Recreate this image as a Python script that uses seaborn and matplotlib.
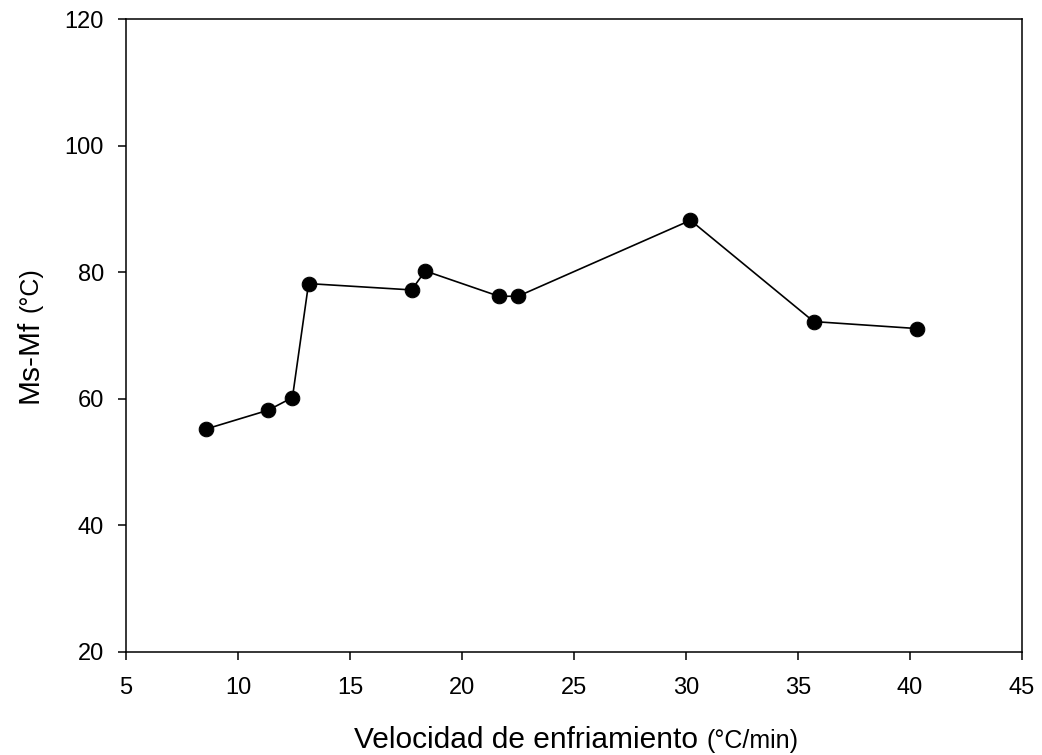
import matplotlib
matplotlib.use("Agg")
import matplotlib.pyplot as plt
import seaborn as sns
import pandas as pd
from matplotlib.offsetbox import TextArea, HPacker, AnchoredOffsetbox

# Data
velocidad = [8.55, 11.35, 12.43, 13.15, 17.75, 18.36, 21.65, 22.5, 30.2, 35.7, 40.3]
ms_mf = [55.2, 58.2, 60.2, 78.2, 77.2, 80.2, 76.2, 76.2, 88.2, 72.2, 71.1]
x_ticks = [5, 10, 15, 20, 25, 30, 35, 40, 45]
y_ticks = [20, 40, 60, 80, 100, 120]

sns.set_style("white")
plt.rcParams['font.family'] = ['Liberation Sans', 'DejaVu Sans']

df = pd.DataFrame({"v": velocidad, "d": ms_mf})

fig = plt.figure(figsize=(10.42, 7.55), dpi=100)
ax = fig.add_axes([126/1042, 1 - 652/755, (1022-126)/1042, (652-19)/755])

sns.lineplot(data=df, x="v", y="d", sort=False, ax=ax, color="black",
             linewidth=1.2, marker="o", markersize=10.5,
             markerfacecolor="black", markeredgecolor="black")

ax.set_xlim(5, 45)
ax.set_ylim(20, 120)
ax.set_xticks(x_ticks)
ax.set_yticks(y_ticks)
ax.set_xlabel("")
ax.set_ylabel("")
for s in ax.spines.values():
    s.set_color("black")
    s.set_linewidth(1.1)
ax.tick_params(axis="both", which="both", direction="out", length=5.8, width=1.1,
               labelsize=17, colors="black", bottom=True, left=True,
               top=False, right=False)
ax.tick_params(axis="x", pad=12)
ax.tick_params(axis="y", pad=10)

# x label with mixed sizes
t1 = TextArea("Velocidad de enfriamiento", textprops=dict(fontsize=21.5, color="black"))
t2 = TextArea("(°C/min)", textprops=dict(fontsize=18, color="black"))
hp = HPacker(children=[t1, t2], align="baseline", pad=0, sep=6)
ab = AnchoredOffsetbox(loc="center", child=hp, frameon=False,
                       bbox_to_anchor=(576/1042, 1 - 740/755),
                       bbox_transform=fig.transFigure, pad=0, borderpad=0)
fig.add_artist(ab)

# y label with mixed sizes (rotated)
fig.text(37/1042, 1 - 361/755, "Ms-Mf", rotation=90, fontsize=21.5,
         ha="center", va="baseline", rotation_mode="anchor", color="black")
fig.text(37/1042, 1 - 290/755, "(°C)", rotation=90, fontsize=18,
         ha="center", va="baseline", rotation_mode="anchor", color="black")

fig.savefig("out.png", dpi=100)
